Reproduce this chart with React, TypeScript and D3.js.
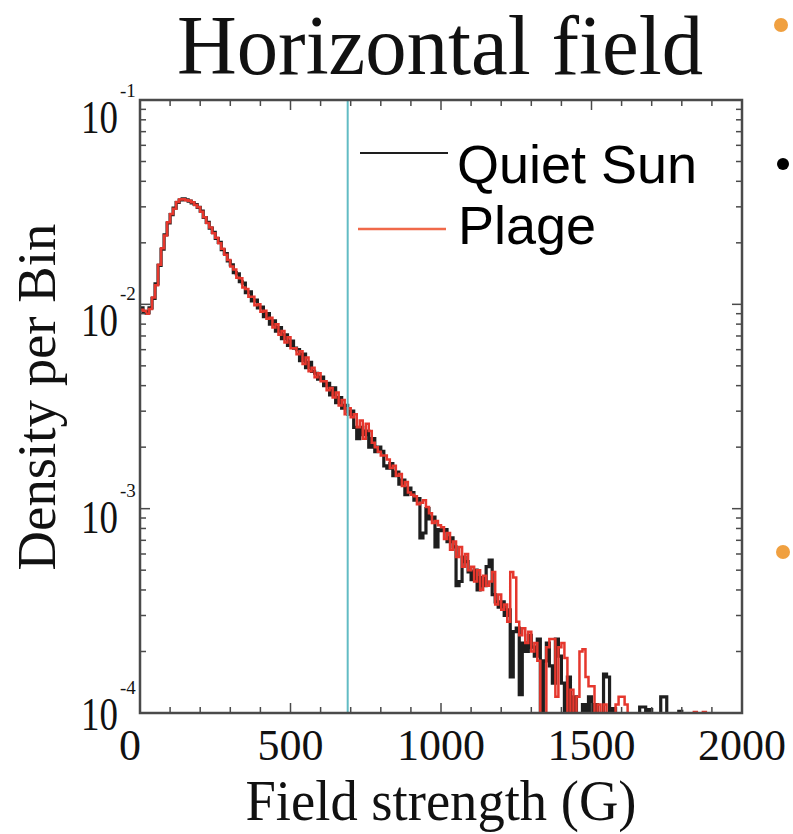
import React from "react";
import * as d3 from "d3";

// ---- data (density per 10 G bin, bins start at 0 G) ----
const binWidth = 10;
const quietSun = [
  0.0096, 0.0092, 0.0091, 0.0096, 0.0107, 0.0126, 0.0155, 0.0186, 0.0219, 0.025,
  0.0275, 0.0296, 0.0315, 0.0324, 0.0328, 0.0325, 0.032, 0.0314, 0.0308, 0.0298,
  0.0286, 0.0266, 0.0252, 0.0236, 0.0225, 0.021, 0.0201, 0.0185, 0.0177, 0.0163,
  0.0156, 0.0143, 0.0141, 0.0129, 0.0127, 0.0114, 0.0115, 0.0104, 0.0105, 0.0096,
  0.0097, 0.0087, 0.009, 0.008, 0.0083, 0.0074, 0.0077, 0.0068, 0.0071, 0.0063,
  0.0066, 0.0061, 0.006, 0.0053, 0.0057, 0.0049, 0.0052, 0.0047, 0.0046, 0.0043,
  0.0044, 0.004, 0.0041, 0.0036, 0.0039, 0.0033, 0.0035, 0.0031, 0.0032, 0.0029,
  0.003, 0.0025, 0.0022, 0.0025, 0.0023, 0.0024, 0.002, 0.0022, 0.0019, 0.002,
  0.00191, 0.00162, 0.00158, 0.00166, 0.00145, 0.00151, 0.00132, 0.00138, 0.00117, 0.00126,
  0.0012, 0.0011, 0.00112, 0.00072, 0.00076, 0.001, 0.00089, 0.00091, 0.00065, 0.00079,
  0.00078, 0.00079, 0.00069, 0.00072, 0.00065, 0.00042, 0.00044, 0.00058, 0.00055, 0.00049,
  0.00045, 0.0005, 0.0004, 0.00046, 0.00042, 0.00052, 0.00056, 0.00038, 0.00035, 0.00033,
  0.00035, 0.0003, 0.00032, 0.00015, 0.00025, 0.00026, 0.000123, 0.00022, 0.0002, 0.00024,
  0.00021, 0.00019, 0.00023, 0, 0.00018, 0.00022, 0.00017, 0.00014, 0.00023, 0.00019,
  0.00014, 0, 0.00015, 0, 0.00012, 0, 0, 0.00011, 0, 0.00012,
  0, 0.00011, 0, 0, 0.000155, 0.00015, 0, 0.000105, 0, 0,
  0, 0, 0, 0, 0, 0, 0.000107, 0.000107, 0, 0.000104,
  0, 0, 0, 0.00012, 0.00012, 0, 0, 0, 0, 0.000102,
  0, 0, 0, 0, 0, 0, 0, 0, 0, 0,
];
const plage = [
  0.0094, 0.0093, 0.009, 0.0095, 0.0108, 0.0124, 0.0156, 0.0188, 0.0217, 0.0252,
  0.0277, 0.0294, 0.0317, 0.0326, 0.0327, 0.0323, 0.0321, 0.0316, 0.0306, 0.0299,
  0.0284, 0.0267, 0.025, 0.0238, 0.0223, 0.0212, 0.0199, 0.0187, 0.0175, 0.0165,
  0.0153, 0.0148, 0.0135, 0.0134, 0.0121, 0.0119, 0.0109, 0.0109, 0.0099, 0.01,
  0.0092, 0.0093, 0.0085, 0.0086, 0.0077, 0.008, 0.0071, 0.0074, 0.0065, 0.0069,
  0.0061, 0.0061, 0.0057, 0.0059, 0.0051, 0.0055, 0.0047, 0.0049, 0.0044, 0.0046,
  0.0042, 0.0042, 0.0038, 0.0039, 0.0035, 0.0037, 0.0032, 0.0034, 0.0029, 0.0031,
  0.0028, 0.0029, 0.0025, 0.0027, 0.0022, 0.0026, 0.0024, 0.0021, 0.002, 0.0019,
  0.00182, 0.00182, 0.00174, 0.00158, 0.00162, 0.00145, 0.00148, 0.00129, 0.00135, 0.0012,
  0.00117, 0.00115, 0.00105, 0.00107, 0.0011, 0.00102, 0.00095, 0.00085, 0.00087, 0.00083,
  0.00081, 0.00071, 0.00076, 0.00063, 0.00069, 0.00058, 0.00065, 0.00052, 0.0006, 0.0005,
  0.00052, 0.00044, 0.0005, 0.0004, 0.00047, 0.00042, 0.00044, 0.00049, 0.00034, 0.00038,
  0.00032, 0.00034, 0.00028, 0.00049, 0.00046, 0.00028, 0.00024, 0.00026, 0.00022, 0.00025,
  0.0002, 0.00022, 0.00018, 0, 0, 0.00021, 0.00023, 0.00023, 0.00012, 0.00021,
  0.00022, 0.000186, 0, 0.00013, 0, 0.00012, 0.0002, 0.000205, 0.00015, 0.000135,
  0.000135, 0, 0.00011, 0, 0.00011, 0, 0, 0, 0.00011, 0.00012,
  0.00012, 0.00011, 0, 0, 0, 0, 0, 0, 0, 0,
  0, 0, 0, 0, 0, 0, 0, 0, 0, 0,
  0, 0, 0, 0, 0.000101, 0, 0, 0.000101, 0, 0,
];
const xTickValues = [0, 500, 1000, 1500, 2000];
const yDecades = [1e-1, 1e-2, 1e-3, 1e-4];
const yExponents = ["-1", "-2", "-3", "-4"];
const thresholdField = 690;
const title = "Horizontal field";
const xLabel = "Field strength (G)";
const yLabel = "Density per Bin";
const seriesNames = ["Quiet Sun", "Plage"];

// ---- layout ----
const W = 793;
const H = 834;
const L = 140, R = 742, T = 100, B = 713;
const SERIF = "'Liberation Serif', 'Times New Roman', serif";
const SANS = "'Liberation Sans', Arial, sans-serif";
const BLACK = "#1e1e1e";
const RED = "#e5372d";

export default function App() {
  const x = d3.scaleLinear().domain([0, 2000]).range([L, R]);
  const y = d3.scaleLog().domain([1e-4, 1e-1]).range([B, T]);

  const makePath = (vals: number[]) => {
    const pts: [number, number][] = vals.map((v, i) => [i * binWidth, v]);
    pts.push([vals.length * binWidth, vals[vals.length - 1]]);
    return d3
      .line<[number, number]>()
      .x((d) => x(d[0]))
      .y((d) => (d[1] > 0 ? y(d[1]) : B + 6))
      .curve(d3.curveStepAfter)(pts) as string;
  };

  const xMinor = d3.range(0, 2001, 100);
  const yMinor: number[] = [];
  [1e-4, 1e-3, 1e-2].forEach((dec) => {
    for (let k = 2; k <= 9; k++) yMinor.push(dec * k);
  });
  const labelOffsets = [33, 32, 24, 17];
  const axisColor = "#4a4a4a";

  return (
    <svg
      width={W}
      height={H}
      style={{ position: "absolute", left: 0, top: 0, background: "#fff" }}
    >
      <defs>
        <clipPath id="plotClip">
          <rect x={L} y={T} width={R - L} height={B - T} />
        </clipPath>
      </defs>
      <rect x={0} y={0} width={W} height={H} fill="#fff" />

      {/* title */}
      <text
        x={440}
        y={74}
        fontFamily={SERIF}
        fontSize={84}
        textAnchor="middle"
        textLength={526}
        lengthAdjust="spacingAndGlyphs"
        fill="#111"
      >
        {title}
      </text>

      {/* curves */}
      <g clipPath="url(#plotClip)" fill="none" strokeLinejoin="miter">
        <path d={makePath(quietSun)} stroke={BLACK} strokeWidth={3.2} />
        <path d={makePath(plage)} stroke={RED} strokeWidth={2.5} />
      </g>

      {/* threshold line */}
      <line
        x1={x(thresholdField)}
        x2={x(thresholdField)}
        y1={T}
        y2={B}
        stroke="#62bcc4"
        strokeWidth={2}
      />

      {/* frame */}
      <rect
        x={L}
        y={T}
        width={R - L}
        height={B - T}
        fill="none"
        stroke={axisColor}
        strokeWidth={2.5}
      />

      {/* x ticks */}
      {xMinor.map((v) => {
        const len = v % 500 === 0 ? 10 : 6;
        return (
          <g key={"xt" + v} stroke={axisColor} strokeWidth={1.5}>
            <line x1={x(v)} x2={x(v)} y1={B} y2={B - len} />
            <line x1={x(v)} x2={x(v)} y1={T} y2={T + len} />
          </g>
        );
      })}
      {/* y ticks */}
      {yDecades.map((v) => (
        <g key={"yM" + v} stroke={axisColor} strokeWidth={1.5}>
          <line x1={L} x2={L + 10} y1={y(v)} y2={y(v)} />
          <line x1={R} x2={R - 10} y1={y(v)} y2={y(v)} />
        </g>
      ))}
      {yMinor.map((v) => (
        <g key={"ym" + v} stroke={axisColor} strokeWidth={1.5}>
          <line x1={L} x2={L + 6} y1={y(v)} y2={y(v)} />
          <line x1={R} x2={R - 6} y1={y(v)} y2={y(v)} />
        </g>
      ))}

      {/* x tick labels */}
      {xTickValues.map((v, i) => (
        <text
          key={"xl" + v}
          x={x(v) + (i === 0 ? -10 : 0)}
          y={760}
          fontFamily={SERIF}
          fontSize={44}
          textAnchor="middle"
          fill="#111"
        >
          {v}
        </text>
      ))}

      {/* y tick labels: "10" with a raised exponent */}
      {yDecades.map((v, i) => {
        const base = y(v) + labelOffsets[i];
        return (
          <g key={"yl" + v} fill="#111" fontFamily={SERIF}>
            <text
              transform={`translate(81,${base}) scale(1,1.26)`}
              fontSize={37}
            >
              10
            </text>
            <text x={120} y={base - 36} fontSize={19}>
              {yExponents[i]}
            </text>
          </g>
        );
      })}

      {/* axis labels */}
      <text
        x={441}
        y={820}
        fontFamily={SERIF}
        fontSize={57}
        textAnchor="middle"
        textLength={391}
        lengthAdjust="spacingAndGlyphs"
        fill="#111"
      >
        {xLabel}
      </text>
      <text
        transform="translate(55,397) rotate(-90)"
        fontFamily={SERIF}
        fontSize={54}
        textAnchor="middle"
        textLength={347}
        lengthAdjust="spacingAndGlyphs"
        fill="#111"
      >
        {yLabel}
      </text>

      {/* legend */}
      <line x1={360} x2={448} y1={153} y2={153} stroke={BLACK} strokeWidth={2} />
      <text x={457} y={183} fontFamily={SANS} fontSize={54} fill="#000">
        {seriesNames[0]}
      </text>
      <line x1={358} x2={446} y1={229} y2={229} stroke="#f0694a" strokeWidth={2.5} />
      <text x={458} y={244} fontFamily={SANS} fontSize={54} fill="#000">
        {seriesNames[1]}
      </text>

      {/* slide bullets at right edge */}
      <circle cx={781} cy={25} r={7} fill="#f0a040" />
      <circle cx={783} cy={164} r={6} fill="#000" />
      <circle cx={783} cy={552} r={7} fill="#f0a040" />
    </svg>
  );
}
